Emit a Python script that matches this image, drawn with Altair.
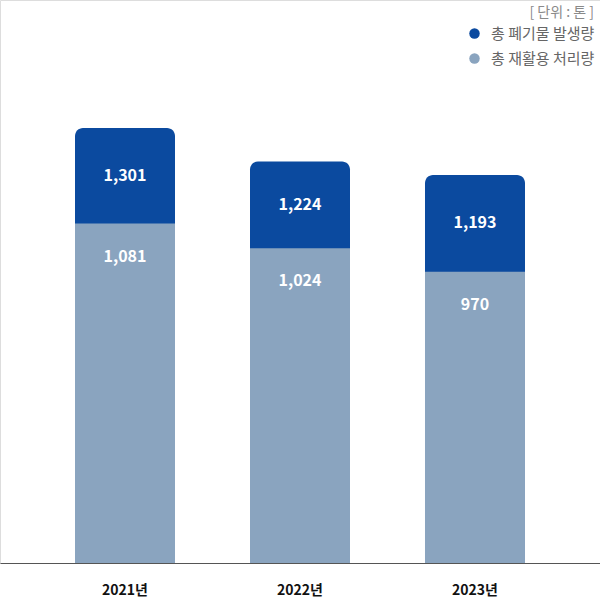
import altair as alt
import pandas as pd

years = ["2021년", "2022년", "2023년"]
total = [1301, 1224, 1193]
recycled = [1081, 1024, 970]
series = ["총 폐기물 발생량", "총 재활용 처리량"]
colors = ["#0b4a9f", "#8aa4bf"]

df = pd.DataFrame({"year": years, "total": total, "recycled": recycled})

FONT = "Noto Sans CJK KR"
YMIN = 300
yscale = alt.Scale(domain=[YMIN, 1595.5], nice=False, zero=False)
cscale = alt.Scale(domain=series, range=colors)

x = alt.X(
    "year:N",
    sort=years,
    scale=alt.Scale(paddingInner=0, paddingOuter=0.2143),
    axis=alt.Axis(
        title=None, labelAngle=0, labelFont=FONT, labelFontWeight="bold",
        labelFontSize=14, labelColor="#111111", domain=True, domainColor="#555555",
        domainWidth=1, ticks=False, labelPadding=20, grid=False,
    ),
)

legend = alt.Legend(
    title="[ 단위 : 톤 ]", orient="none", legendX=467, legendY=6,
    titleAnchor="end", titleFont=FONT, titleFontSize=14, titleFontWeight="normal",
    titleColor="#8a8a8a", titlePadding=6, labelFont=FONT, labelFontSize=15,
    labelColor="#666666", symbolType="circle", symbolSize=110, symbolStrokeWidth=0,
    rowPadding=9, labelOffset=9, padding=0,
)

base = alt.Chart(df)

dark = base.transform_calculate(s=f"'{series[0]}'").mark_bar(
    size=100, cornerRadiusTopLeft=8, cornerRadiusTopRight=8
).encode(
    x=x,
    y=alt.Y("total:Q", scale=yscale, axis=None),
    y2=alt.datum(YMIN),
    color=alt.Color("s:N", scale=cscale, legend=legend),
)

light = base.transform_calculate(s=f"'{series[1]}'").mark_bar(size=100).encode(
    x=x,
    y=alt.Y("recycled:Q", scale=yscale, axis=None),
    y2=alt.datum(YMIN),
    color=alt.Color("s:N", scale=cscale, legend=legend),
)

dark_text = base.transform_calculate(mid="(datum.total + datum.recycled) / 2").mark_text(
    font=FONT, fontSize=16, fontWeight="bold", color="white", baseline="middle"
).encode(
    x=x,
    y=alt.Y("mid:Q", scale=yscale, axis=None),
    text=alt.Text("total:Q", format=","),
)

light_text = base.mark_text(
    font=FONT, fontSize=16, fontWeight=600, color="white", baseline="middle", dy=33
).encode(
    x=x,
    y=alt.Y("recycled:Q", scale=yscale, axis=None),
    text=alt.Text("recycled:Q", format=","),
)

chart = alt.layer(dark, light, dark_text, light_text).properties(
    width=600, height=563,
    padding={"left": 0, "top": 0, "right": 0, "bottom": 37},
    autosize=alt.AutoSizeParams(type="none"),
).configure_view(stroke=None).configure(font=FONT)

chart.save("out.html", embed_options={"renderer": "svg", "actions": False})
